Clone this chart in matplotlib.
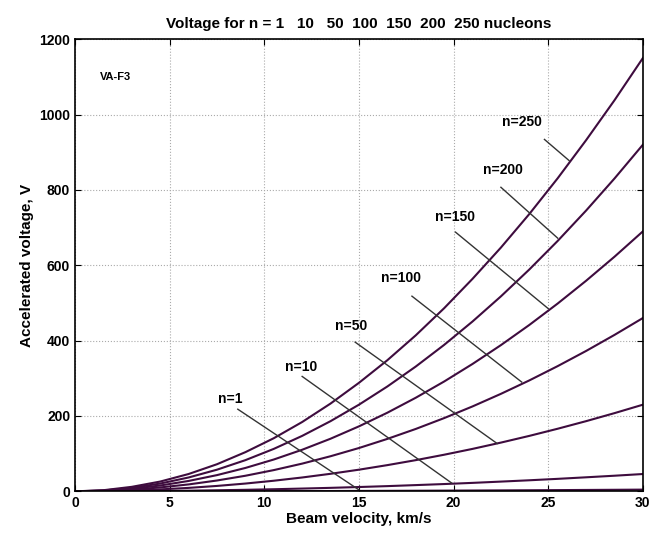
import matplotlib
matplotlib.use("Agg")
import matplotlib.pyplot as plt

# velocity (km/s) and voltage (V)
velocity = [0, 1.5, 3, 4.5, 6, 7.5, 9, 10.5, 12, 13.5, 15,
            16.5, 18, 19.5, 21, 22.5, 24, 25.5, 27, 28.5, 30]
volt_n1 = [0, 0.01, 0.05, 0.1, 0.18, 0.29, 0.41, 0.56, 0.74, 0.93, 1.15,
           1.39, 1.66, 1.94, 2.25, 2.59, 2.94, 3.32, 3.73, 4.15, 4.6]
volt_n10 = [0, 0.1, 0.5, 1.0, 1.8, 2.9, 4.1, 5.6, 7.4, 9.3, 11.5,
            13.9, 16.6, 19.4, 22.5, 25.9, 29.4, 33.2, 37.3, 41.5, 46]
volt_n50 = [0, 0.6, 2.3, 5.2, 9.2, 14.4, 20.7, 28.2, 36.8, 46.6, 57.5,
            69.6, 82.8, 97.2, 112.7, 129.4, 147.2, 166.2, 186.3, 207.6, 230]
volt_n100 = [0, 1.2, 4.6, 10.4, 18.4, 28.8, 41.4, 56.4, 73.6, 93.2, 115,
             139.2, 165.6, 194.4, 225.4, 258.8, 294.4, 332.4, 372.6, 415.2, 460]
volt_n150 = [0, 1.7, 6.9, 15.5, 27.6, 43.1, 62.1, 84.5, 110.4, 139.7, 172.5,
             208.7, 248.4, 291.5, 338.1, 388.1, 441.6, 498.5, 558.9, 622.7, 690]
volt_n200 = [0, 2.3, 9.2, 20.7, 36.8, 57.5, 82.8, 112.7, 147.2, 186.3, 230,
             278.3, 331.2, 388.7, 450.8, 517.5, 588.8, 664.7, 745.2, 830.3, 920]
volt_n250 = [0, 3, 12, 26, 46, 72, 104, 141, 184, 233, 288,
             348, 414, 486, 564, 647, 736, 831, 932, 1038, 1150]

labels = ["n=1", "n=10", "n=50", "n=100", "n=150", "n=200", "n=250"]
# label text positions and pointer lines (start, end) in data units
label_xy = [(8.2, 244), (11.95, 329), (14.6, 438), (17.2, 565), (20.1, 727), (22.6, 852), (23.6, 980)]
pointer_start = [(8.6, 218), (12.0, 305), (14.8, 396), (17.8, 518), (20.1, 688), (22.5, 807), (24.8, 934)]
pointer_end = [(15.0, 4), (19.9, 22), (22.3, 127), (23.6, 290), (25.0, 485), (25.5, 672), (26.1, 878)]

plt.rcParams['font.family'] = ['Liberation Sans', 'DejaVu Sans']
plt.rcParams['font.weight'] = 'bold'

fig = plt.figure(figsize=(6.55, 5.37), dpi=100)
ax = fig.add_axes([0.1145, 0.085, 0.867, 0.842])

lc = '#3e0c3e'
for vv in [volt_n1, volt_n10, volt_n50, volt_n100, volt_n150, volt_n200, volt_n250]:
    ax.plot(velocity, vv, color=lc, lw=1.5)

for i in range(len(labels)):
    ax.text(label_xy[i][0], label_xy[i][1], labels[i], ha='center', va='center',
            fontsize=10, fontweight='bold')
    ax.plot([pointer_start[i][0], pointer_end[i][0]],
            [pointer_start[i][1], pointer_end[i][1]], color='#333333', lw=1.0)

ax.text(1.3, 1099, "VA-F3", ha='left', va='center', fontsize=8, fontweight='bold')

ax.set_xlim(0, 30)
ax.set_ylim(0, 1200)
ax.set_xticks([0, 5, 10, 15, 20, 25, 30])
ax.set_yticks([0, 200, 400, 600, 800, 1000, 1200])
ax.grid(True, linestyle=':', color='#aaaaaa', lw=0.8)
ax.tick_params(direction='in', top=True, right=True, labelsize=10, length=4)
for s in ax.spines.values():
    s.set_linewidth(1.2)

ax.set_xlabel("Beam velocity, km/s", fontsize=11, fontweight='bold', labelpad=1)
ax.set_ylabel("Accelerated voltage, V", fontsize=11, fontweight='bold', labelpad=4)
ax.set_title("Voltage for n = 1   10   50  100  150  200  250 nucleons",
             fontsize=11, fontweight='bold', pad=8)

fig.savefig("out.png", dpi=100)
